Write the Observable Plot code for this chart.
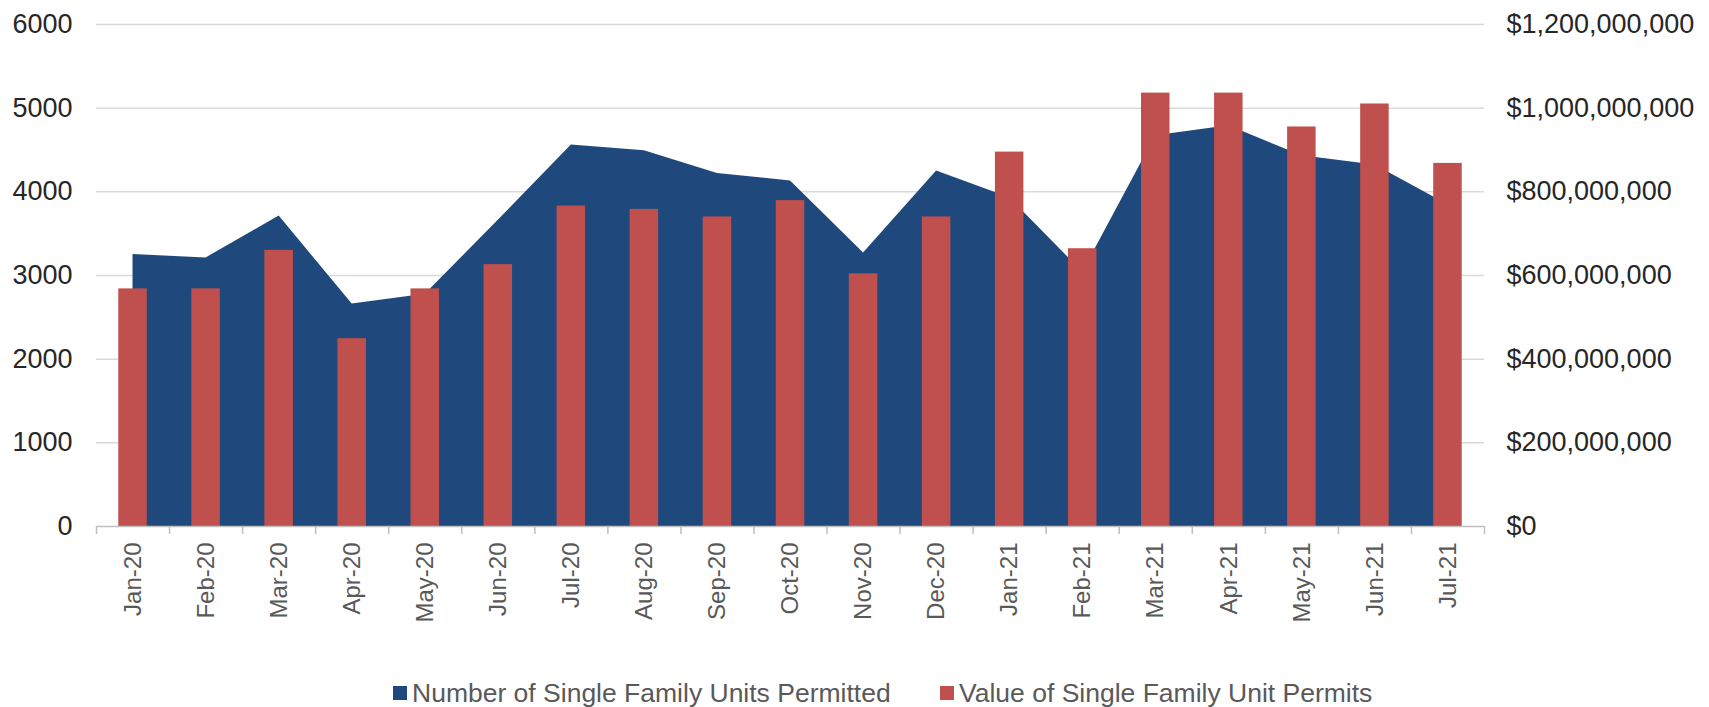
<!DOCTYPE html>
<html>
<head>
<meta charset="utf-8">
<script src="https://cdn.jsdelivr.net/npm/d3@7"></script>
<script src="https://cdn.jsdelivr.net/npm/@observablehq/plot@0.6"></script>
<style>
  html, body { margin: 0; padding: 0; background: #fff; }
  #chart svg { display: block; }
  .legend { position: relative; width: 1709px; height: 31px; font-family: "Liberation Sans", Arial, sans-serif; font-size: 26.5px; color: #595959; }
  .legend .item { position: absolute; top: 3px; height: 28px; line-height: 28px; display: flex; align-items: center; white-space: nowrap; }
  .legend .sw { width: 14px; height: 14px; margin-right: 5px; }
</style>
</head>
<body>
<div id="chart"></div>
<div class="legend">
  <div class="item" style="left:393px"><span class="sw" style="background:#1f497d"></span><span>Number of Single Family Units Permitted</span></div>
  <div class="item" style="left:940px"><span class="sw" style="background:#c0504d"></span><span>Value of Single Family Unit Permits</span></div>
</div>
<script>
const months = ["Jan-20","Feb-20","Mar-20","Apr-20","May-20","Jun-20","Jul-20","Aug-20","Sep-20","Oct-20","Nov-20","Dec-20","Jan-21","Feb-21","Mar-21","Apr-21","May-21","Jun-21","Jul-21"];
const units = [3250, 3210, 3710, 2660, 2775, 3660, 4560, 4490, 4220, 4130, 3270, 4250, 3930, 3040, 4670, 4790, 4430, 4320, 3845];
const values = [568e6, 568e6, 660e6, 449e6, 568e6, 626e6, 766e6, 758e6, 740e6, 779e6, 604e6, 740e6, 895e6, 664e6, 1036e6, 1036e6, 955e6, 1010e6, 868e6];
const leftTicks = [0, 1000, 2000, 3000, 4000, 5000, 6000];
const leftMax = 6000;
const rightMax = 1200000000;

const ratio = rightMax / leftMax;
const data = months.map((m, i) => ({i, month: m, units: units[i], value: values[i], scaled: values[i] / ratio}));
const boundaries = months.map((_, i) => i - 0.5).concat([months.length - 0.5]);
const font = "Liberation Sans, Arial, sans-serif";
const fmt = d3.format(",");

const chart = Plot.plot({
  width: 1709,
  height: 676,
  marginLeft: 96,
  marginRight: 225,
  marginTop: 24,
  marginBottom: 150,
  style: {fontFamily: font, background: "#fff"},
  x: {type: "linear", domain: [-0.5, months.length - 0.5]},
  y: {domain: [0, leftMax]},
  marks: [
    Plot.ruleY(leftTicks.filter(d => d > 0), {stroke: "#d9d9d9", strokeWidth: 1.5}),
    Plot.areaY(data, {x: "i", y: "units", fill: "#1f497d"}),
    Plot.rectY(data, {x1: d => d.i - 0.195, x2: d => d.i + 0.195, y1: 0, y2: "scaled", fill: "#c0504d"}),
    Plot.ruleY([0], {stroke: "#bfbfbf", strokeWidth: 1.5}),
    Plot.axisX({ticks: boundaries, tickFormat: () => "", tickSize: 8, stroke: "#bfbfbf", strokeWidth: 1.5, label: null}),
    Plot.axisX({ticks: months.map((_, i) => i), tickFormat: i => months[i], tickSize: 0, tickPadding: 16, tickRotate: -90, fontSize: 24, fill: "#595959", label: null}),
    Plot.axisY({anchor: "left", ticks: leftTicks, tickFormat: d => String(d), tickSize: 0, tickPadding: 24, fontSize: 27, fill: "#262626", label: null}),
    Plot.axisY({anchor: "right", ticks: leftTicks, tickFormat: d => "$" + fmt(d * ratio), tickSize: 0, tickPadding: 22, fontSize: 27, fill: "#262626", label: null})
  ]
});
document.getElementById("chart").appendChild(chart);
</script>
</body>
</html>
